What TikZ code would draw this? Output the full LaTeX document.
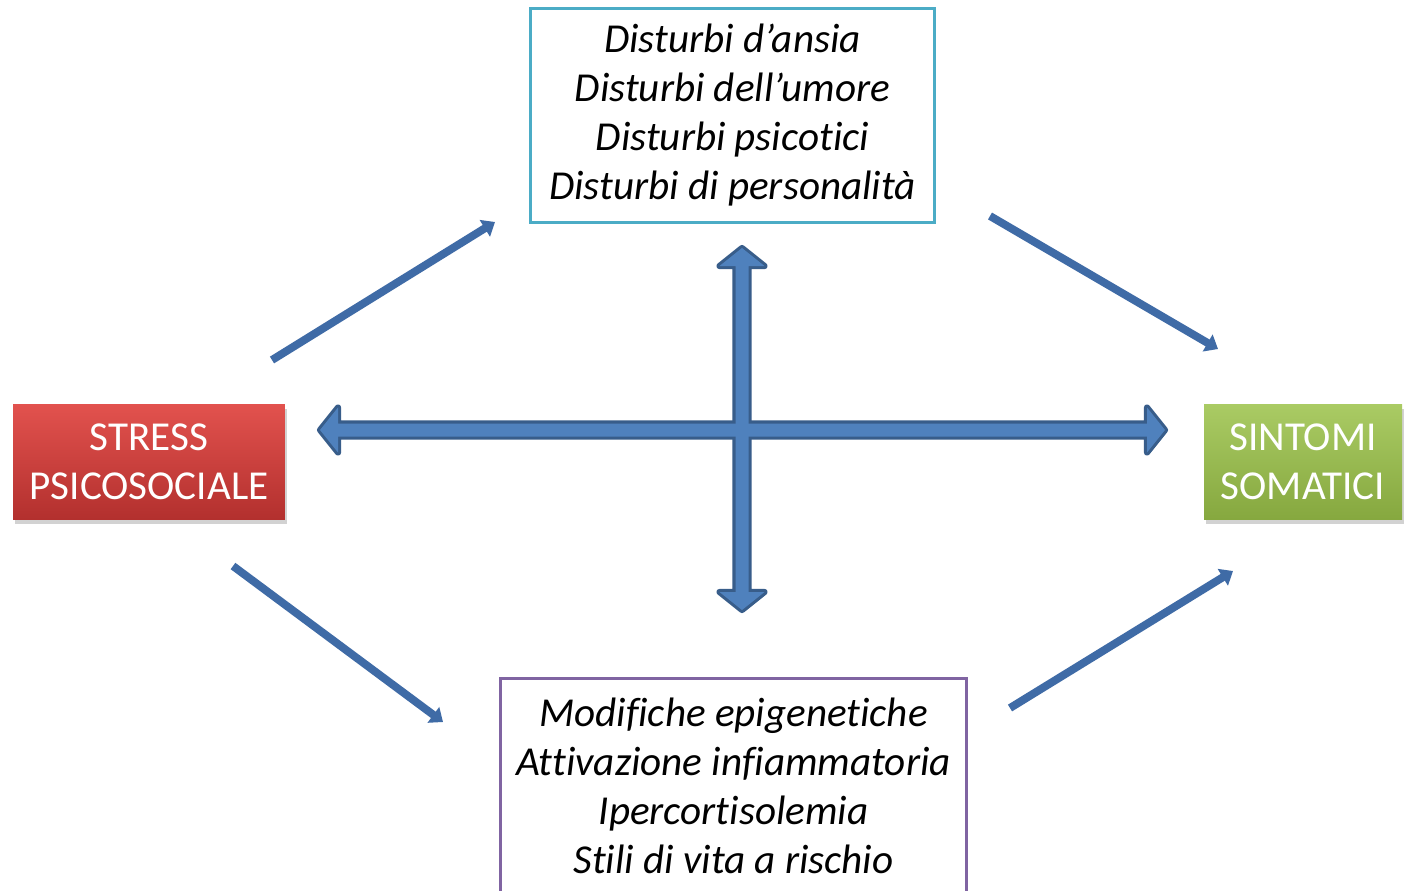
\documentclass[tikz,border=0pt]{standalone}
\usepackage{fontspec}
\setmainfont[Ligatures=NoCommon]{Carlito}
\usetikzlibrary{arrows.meta, positioning, calc, shadows}
\definecolor{boxteal}{HTML}{4BACC6}
\definecolor{boxpurple}{HTML}{8064A2}
\definecolor{stresstop}{HTML}{E2524E}
\definecolor{stressbot}{HTML}{B3302E}
\definecolor{sintomitop}{HTML}{AACB64}
\definecolor{sintomibot}{HTML}{86A83F}
\definecolor{arrowblue}{HTML}{3F6BA6}
\definecolor{blockfill}{HTML}{4F81BD}
\definecolor{blockedge}{HTML}{385D8A}
\newcommand{\diagfont}{\fontsize{23.4}{27.9}\selectfont}
% outlines of the two crossed block arrows
\newcommand{\crossH}{(hl) -- ++(18,-22.5) -- ++(0,16) -- ($(hr)+(-18,-6.5)$) -- ++(0,-16) -- (hr) -- ++(-18,22.5) -- ++(0,-16) -- ($(hl)+(18,6.5)$) -- ++(0,16) -- cycle}
\newcommand{\crossV}{(vt) -- ++(22.5,18) -- ++(-16,0) -- ($(vb)+(6.5,-18)$) -- ++(16,0) -- (vb) -- ++(-22.5,-18) -- ++(16,0) -- ($(vt)+(-6.5,18)$) -- ++(-16,0) -- cycle}

\begin{document}
\begin{tikzpicture}[x=0.02cm, y=-0.02cm,
  listbox/.style={draw, line width=1.7pt, fill=white, align=center, inner sep=0pt, font=\diagfont\itshape},
  causebox/.style={align=center, inner sep=0pt, text=white, font=\diagfont,
    drop shadow={shadow xshift=1pt, shadow yshift=-3pt, opacity=0.35},
    minimum height=2.3cm},
  diagarrow/.style={draw=arrowblue, line width=4.5pt, -{Triangle[length=0.24cm, width=0.38cm]}},
  blockline/.style={draw=blockedge, line width=3.5pt, line join=round, fill=blockfill}]
\clip (0,0) rectangle (1409,890);
\fill[white] (0,0) rectangle (1409,890);

% boxes
\node[listbox, draw=boxteal, minimum width=8.1cm, minimum height=4.3cm] (disturbi) at (732.5,115.5)
  {Disturbi d’ansia\\Disturbi dell’umore\\Disturbi psicotici\\Disturbi di personalità};
\node[listbox, draw=boxpurple, minimum width=9.34cm, minimum height=4.3cm] (modifiche) at (733.5,785.5)
  {Modifiche epigenetiche\\Attivazione infiammatoria\\Ipercortisolemia\\Stili di vita a rischio};
\node[causebox, minimum width=5.44cm, top color=stresstop, bottom color=stressbot] (stress) at (149,461.5)
  {STRESS\\PSICOSOCIALE};
\node[causebox, minimum width=3.96cm, top color=sintomitop, bottom color=sintomibot] (sintomi) at (1303,461.5)
  {SINTOMI\\SOMATICI};

% cross of block arrows
\coordinate (hl) at (320,430);
\coordinate (hr) at (1165,430);
\coordinate (vt) at (742,248);
\coordinate (vb) at (742,610);
\path[blockline] \crossH;
\path[blockline] \crossV;
\fill[blockfill] \crossH;
\fill[blockfill] \crossV;

% thin arrows
\coordinate (a1) at (272,360);
\coordinate (b1) at (495,222);
\coordinate (a2) at (990,216);
\coordinate (b2) at (1218,349);
\coordinate (a3) at (233,566);
\coordinate (b3) at (443,722);
\coordinate (a4) at (1010,708);
\coordinate (b4) at (1233,571);
\draw[diagarrow] (a1) -- (b1);
\draw[diagarrow] (a2) -- (b2);
\draw[diagarrow] (a3) -- (b3);
\draw[diagarrow] (a4) -- (b4);
\end{tikzpicture}
\end{document}
